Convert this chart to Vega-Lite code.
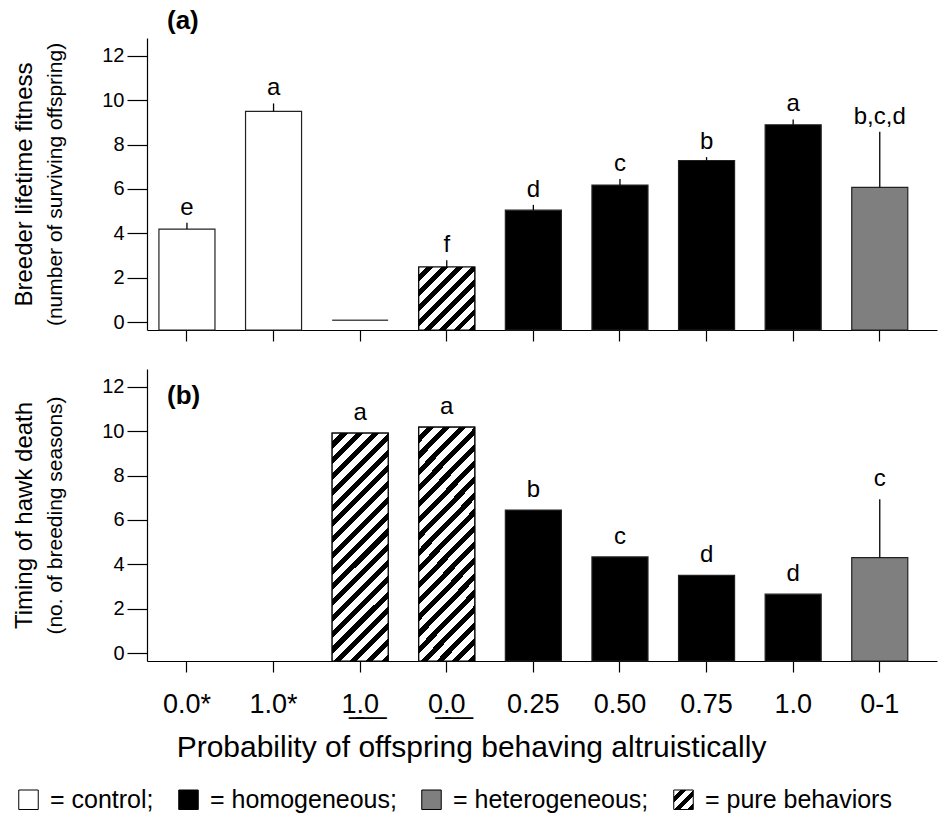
{
  "$schema": "https://vega.github.io/schema/vega-lite/v6.json",
  "padding": {"left": 12, "top": 8, "right": 2, "bottom": 2},
  "config": {
    "font": "Liberation Sans",
    "view": {"stroke": null},
    "axis": {"domainColor": "black", "tickColor": "black", "labelColor": "black", "titleColor": "black", "grid": false, "titleFontWeight": "normal", "labelFont": "Liberation Sans", "titleFont": "Liberation Sans", "domainWidth": 1.2, "tickWidth": 1.2},
    "title": {"font": "Liberation Sans", "color": "black"}
  },
  "data": {
    "values": [
      {"panel": "a", "treatment": "0.0*", "group": "control", "kind": "bar", "value": 4.19, "upper": 4.47, "sig": "e"},
      {"panel": "a", "treatment": "1.0*", "group": "control", "kind": "bar", "value": 9.49, "upper": 9.85, "sig": "a"},
      {"panel": "a", "treatment": "1.0p", "group": "pure behaviors", "kind": "line", "value": 0.08, "upper": 0.08, "sig": ""},
      {"panel": "a", "treatment": "0.0p", "group": "pure behaviors", "kind": "bar", "value": 2.48, "upper": 2.78, "sig": "f"},
      {"panel": "a", "treatment": "0.25", "group": "homogeneous", "kind": "bar", "value": 5.04, "upper": 5.28, "sig": "d"},
      {"panel": "a", "treatment": "0.50", "group": "homogeneous", "kind": "bar", "value": 6.17, "upper": 6.44, "sig": "c"},
      {"panel": "a", "treatment": "0.75", "group": "homogeneous", "kind": "bar", "value": 7.28, "upper": 7.43, "sig": "b"},
      {"panel": "a", "treatment": "1.0", "group": "homogeneous", "kind": "bar", "value": 8.89, "upper": 9.13, "sig": "a"},
      {"panel": "a", "treatment": "0-1", "group": "heterogeneous", "kind": "bar", "value": 6.07, "upper": 8.58, "sig": "b,c,d"},
      {"panel": "b", "treatment": "1.0p", "group": "pure behaviors", "kind": "bar", "value": 9.91, "upper": 9.91, "sig": "a"},
      {"panel": "b", "treatment": "0.0p", "group": "pure behaviors", "kind": "bar", "value": 10.18, "upper": 10.18, "sig": "a"},
      {"panel": "b", "treatment": "0.25", "group": "homogeneous", "kind": "bar", "value": 6.44, "upper": 6.44, "sig": "b"},
      {"panel": "b", "treatment": "0.50", "group": "homogeneous", "kind": "bar", "value": 4.33, "upper": 4.33, "sig": "c"},
      {"panel": "b", "treatment": "0.75", "group": "homogeneous", "kind": "bar", "value": 3.50, "upper": 3.50, "sig": "d"},
      {"panel": "b", "treatment": "1.0", "group": "homogeneous", "kind": "bar", "value": 2.65, "upper": 2.65, "sig": "d"},
      {"panel": "b", "treatment": "0-1", "group": "heterogeneous", "kind": "bar", "value": 4.30, "upper": 6.93, "sig": "c"}
    ]
  },
  "spacing": 27,
  "vconcat": [
    {
      "width": 790,
      "height": 292,
      "title": {"text": "(a)", "anchor": "start", "frame": "group", "fontSize": 26, "fontWeight": "bold", "dx": 20, "offset": 4},
      "transform": [{"filter": "datum.panel === 'a'"}],
      "encoding": {
        "x": {
          "field": "treatment", "type": "nominal",
          "scale": {"domain": ["0.0*", "1.0*", "1.0p", "0.0p", "0.25", "0.50", "0.75", "1.0", "0-1"], "paddingInner": 0.353, "paddingOuter": 0.2376, "align": 0.29},
          "axis": {"title": null, "labels": false, "ticks": true, "tickSize": 11}
        }
      },
      "layer": [
        {
          "transform": [{"filter": "datum.kind === 'bar'"}],
          "mark": {"type": "bar", "stroke": "#222", "strokeWidth": 1.2},
          "encoding": {
            "y": {"field": "value", "type": "quantitative", "scale": {"domain": [-0.36, 12.8], "nice": false, "zero": false},
              "axis": {"title": "(number of surviving offspring)", "titleFontSize": 21, "titlePadding": 36, "values": [0, 2, 4, 6, 8, 10, 12], "tickSize": 20, "labelFontSize": 20, "labelPadding": 3}},
            "y2": {"datum": -0.36},
            "fill": {
              "field": "group", "type": "nominal",
              "scale": {"domain": ["control", "homogeneous", "heterogeneous", "pure behaviors"],
                "range": ["white", "black", "#7f7f7f", {"expr": "{'gradient': 'linear', 'x1': 0, 'y1': 0, 'x2': 1, 'y2': 1, 'stops': [{'offset': 0, 'color': 'white'}, {'offset': 0.1833, 'color': 'white'}, {'offset': 0.1833, 'color': 'black'}, {'offset': 0.3333, 'color': 'black'}, {'offset': 0.3333, 'color': 'white'}, {'offset': 0.5167, 'color': 'white'}, {'offset': 0.5167, 'color': 'black'}, {'offset': 0.6667, 'color': 'black'}, {'offset': 0.6667, 'color': 'white'}, {'offset': 0.85, 'color': 'white'}, {'offset': 0.85, 'color': 'black'}, {'offset': 1, 'color': 'black'}]}"}]},
              "legend": {"title": null, "orient": "none", "legendX": -131, "legendY": 749, "direction": "horizontal", "symbolType": "square", "symbolSize": 380, "symbolStrokeColor": "black", "symbolStrokeWidth": 1, "labelFontSize": 25, "labelFont": "Liberation Sans", "labelColor": "black", "labelLimit": 400, "columnPadding": 22, "labelOffset": 9,
                "labelExpr": "datum.label === 'pure behaviors' ? ' = pure behaviors' : '= ' + datum.label + ';'"}
            }
          }
        },
        {
          "transform": [{"filter": "datum.kind === 'bar' && datum.group === 'pure behaviors'"}],
          "mark": {"type": "bar", "stroke": "black", "strokeWidth": 1.2,
            "fill": {"gradient": "linear", "x1": 0, "y1": 0, "x2": 0.938, "y2": 1.0553, "stops": [
              {"offset": 0, "color": "white"}, {"offset": 0.0688, "color": "white"}, {"offset": 0.0688, "color": "black"}, {"offset": 0.125, "color": "black"},
              {"offset": 0.125, "color": "white"}, {"offset": 0.1938, "color": "white"}, {"offset": 0.1938, "color": "black"}, {"offset": 0.25, "color": "black"},
              {"offset": 0.25, "color": "white"}, {"offset": 0.3188, "color": "white"}, {"offset": 0.3188, "color": "black"}, {"offset": 0.375, "color": "black"},
              {"offset": 0.375, "color": "white"}, {"offset": 0.4438, "color": "white"}, {"offset": 0.4438, "color": "black"}, {"offset": 0.5, "color": "black"},
              {"offset": 0.5, "color": "white"}, {"offset": 0.5688, "color": "white"}, {"offset": 0.5688, "color": "black"}, {"offset": 0.625, "color": "black"},
              {"offset": 0.625, "color": "white"}, {"offset": 0.6938, "color": "white"}, {"offset": 0.6938, "color": "black"}, {"offset": 0.75, "color": "black"},
              {"offset": 0.75, "color": "white"}, {"offset": 0.8188, "color": "white"}, {"offset": 0.8188, "color": "black"}, {"offset": 0.875, "color": "black"},
              {"offset": 0.875, "color": "white"}, {"offset": 0.9438, "color": "white"}, {"offset": 0.9438, "color": "black"}, {"offset": 1, "color": "black"}
            ]}},
          "encoding": {
            "y": {"field": "value", "type": "quantitative",
              "axis": {"title": "Breeder lifetime fitness", "titleFontSize": 24, "orient": "left", "labels": false, "ticks": false, "domain": false, "offset": 111, "titlePadding": 0, "minExtent": 0, "maxExtent": 0}},
            "y2": {"datum": -0.36}
          }
        },
        {
          "transform": [{"filter": "datum.kind === 'line'"}],
          "mark": {"type": "tick", "orient": "horizontal", "size": 56, "thickness": 1.5, "color": "black"},
          "encoding": {"y": {"field": "value", "type": "quantitative", "axis": null}}
        },
        {
          "transform": [{"filter": "datum.upper > datum.value"}],
          "mark": {"type": "rule", "color": "black", "strokeWidth": 1.3},
          "encoding": {"y": {"field": "value", "type": "quantitative", "axis": null}, "y2": {"field": "upper"}}
        },
        {
          "mark": {"type": "text", "fontSize": 24, "baseline": "alphabetic", "dy": -8, "color": "black"},
          "encoding": {"y": {"field": "upper", "type": "quantitative", "axis": null}, "text": {"field": "sig"}}
        }
      ],
      "resolve": {"axis": {"y": "independent"}}
    },
    {
      "width": 790,
      "height": 292,
      "title": {"text": "(b)", "anchor": "start", "frame": "group", "fontSize": 26, "fontWeight": "bold", "dx": 20, "offset": -40},
      "transform": [{"filter": "datum.panel === 'b'"}],
      "encoding": {
        "x": {
          "field": "treatment", "type": "nominal",
          "scale": {"domain": ["0.0*", "1.0*", "1.0p", "0.0p", "0.25", "0.50", "0.75", "1.0", "0-1"], "paddingInner": 0.353, "paddingOuter": 0.2376, "align": 0.29},
          "axis": {"title": "Probability of offspring behaving altruistically", "titleFontSize": 30, "titlePadding": 15, "titleX": 324, "labelFontSize": 27, "labelPadding": 19, "labelAngle": 0, "tickSize": 11, "labelFont": "Liberation Sans, DejaVu Sans",
            "labelExpr": "datum.value === '1.0p' ? '1\u0332.\u03320\u0332' : datum.value === '0.0p' ? '0\u0332.\u03320\u0332' : datum.value"}
        }
      },
      "layer": [
        {
          "transform": [{"filter": "datum.kind === 'bar'"}],
          "mark": {"type": "bar", "stroke": "#222", "strokeWidth": 1.2},
          "encoding": {
            "y": {"field": "value", "type": "quantitative", "scale": {"domain": [-0.36, 12.8], "nice": false, "zero": false},
              "axis": {"title": "(no. of breeding seasons)", "titleFontSize": 21, "titlePadding": 36, "values": [0, 2, 4, 6, 8, 10, 12], "tickSize": 20, "labelFontSize": 20, "labelPadding": 3}},
            "y2": {"datum": -0.36},
            "fill": {
              "field": "group", "type": "nominal",
              "scale": {"domain": ["control", "homogeneous", "heterogeneous", "pure behaviors"],
                "range": ["white", "black", "#7f7f7f", {"expr": "{'gradient': 'linear', 'x1': 0, 'y1': 0, 'x2': 1, 'y2': 1, 'stops': [{'offset': 0, 'color': 'white'}, {'offset': 0.1833, 'color': 'white'}, {'offset': 0.1833, 'color': 'black'}, {'offset': 0.3333, 'color': 'black'}, {'offset': 0.3333, 'color': 'white'}, {'offset': 0.5167, 'color': 'white'}, {'offset': 0.5167, 'color': 'black'}, {'offset': 0.6667, 'color': 'black'}, {'offset': 0.6667, 'color': 'white'}, {'offset': 0.85, 'color': 'white'}, {'offset': 0.85, 'color': 'black'}, {'offset': 1, 'color': 'black'}]}"}]},
              "legend": {"title": null, "orient": "none", "legendX": -131, "legendY": 749, "direction": "horizontal", "symbolType": "square", "symbolSize": 380, "symbolStrokeColor": "black", "symbolStrokeWidth": 1, "labelFontSize": 25, "labelFont": "Liberation Sans", "labelColor": "black", "labelLimit": 400, "columnPadding": 22, "labelOffset": 9,
                "labelExpr": "datum.label === 'pure behaviors' ? ' = pure behaviors' : '= ' + datum.label + ';'"}
            }
          }
        },
        {
          "transform": [{"filter": "datum.kind === 'bar' && datum.group === 'pure behaviors'"}],
          "mark": {"type": "bar", "stroke": "black", "strokeWidth": 1.2,
            "fill": {"gradient": "linear", "x1": 0, "y1": 0, "x2": 0.2885, "y2": 1.1748, "stops": [
              {"offset": 0, "color": "white"}, {"offset": 0.0306, "color": "white"}, {"offset": 0.0306, "color": "black"}, {"offset": 0.0556, "color": "black"},
              {"offset": 0.0556, "color": "white"}, {"offset": 0.0861, "color": "white"}, {"offset": 0.0861, "color": "black"}, {"offset": 0.1111, "color": "black"},
              {"offset": 0.1111, "color": "white"}, {"offset": 0.1417, "color": "white"}, {"offset": 0.1417, "color": "black"}, {"offset": 0.1667, "color": "black"},
              {"offset": 0.1667, "color": "white"}, {"offset": 0.1972, "color": "white"}, {"offset": 0.1972, "color": "black"}, {"offset": 0.2222, "color": "black"},
              {"offset": 0.2222, "color": "white"}, {"offset": 0.2528, "color": "white"}, {"offset": 0.2528, "color": "black"}, {"offset": 0.2778, "color": "black"},
              {"offset": 0.2778, "color": "white"}, {"offset": 0.3083, "color": "white"}, {"offset": 0.3083, "color": "black"}, {"offset": 0.3333, "color": "black"},
              {"offset": 0.3333, "color": "white"}, {"offset": 0.3639, "color": "white"}, {"offset": 0.3639, "color": "black"}, {"offset": 0.3889, "color": "black"},
              {"offset": 0.3889, "color": "white"}, {"offset": 0.4194, "color": "white"}, {"offset": 0.4194, "color": "black"}, {"offset": 0.4444, "color": "black"},
              {"offset": 0.4444, "color": "white"}, {"offset": 0.475, "color": "white"}, {"offset": 0.475, "color": "black"}, {"offset": 0.5, "color": "black"},
              {"offset": 0.5, "color": "white"}, {"offset": 0.5306, "color": "white"}, {"offset": 0.5306, "color": "black"}, {"offset": 0.5556, "color": "black"},
              {"offset": 0.5556, "color": "white"}, {"offset": 0.5861, "color": "white"}, {"offset": 0.5861, "color": "black"}, {"offset": 0.6111, "color": "black"},
              {"offset": 0.6111, "color": "white"}, {"offset": 0.6417, "color": "white"}, {"offset": 0.6417, "color": "black"}, {"offset": 0.6667, "color": "black"},
              {"offset": 0.6667, "color": "white"}, {"offset": 0.6972, "color": "white"}, {"offset": 0.6972, "color": "black"}, {"offset": 0.7222, "color": "black"},
              {"offset": 0.7222, "color": "white"}, {"offset": 0.7528, "color": "white"}, {"offset": 0.7528, "color": "black"}, {"offset": 0.7778, "color": "black"},
              {"offset": 0.7778, "color": "white"}, {"offset": 0.8083, "color": "white"}, {"offset": 0.8083, "color": "black"}, {"offset": 0.8333, "color": "black"},
              {"offset": 0.8333, "color": "white"}, {"offset": 0.8639, "color": "white"}, {"offset": 0.8639, "color": "black"}, {"offset": 0.8889, "color": "black"},
              {"offset": 0.8889, "color": "white"}, {"offset": 0.9194, "color": "white"}, {"offset": 0.9194, "color": "black"}, {"offset": 0.9444, "color": "black"},
              {"offset": 0.9444, "color": "white"}, {"offset": 0.975, "color": "white"}, {"offset": 0.975, "color": "black"}, {"offset": 1, "color": "black"}
            ]}},
          "encoding": {
            "y": {"field": "value", "type": "quantitative",
              "axis": {"title": "Timing of hawk death", "titleFontSize": 24, "orient": "left", "labels": false, "ticks": false, "domain": false, "offset": 111, "titlePadding": 0, "minExtent": 0, "maxExtent": 0}},
            "y2": {"datum": -0.36}
          }
        },
        {
          "transform": [{"filter": "datum.upper > datum.value"}],
          "mark": {"type": "rule", "color": "black", "strokeWidth": 1.3},
          "encoding": {"y": {"field": "value", "type": "quantitative", "axis": null}, "y2": {"field": "upper"}}
        },
        {
          "mark": {"type": "text", "fontSize": 24, "baseline": "alphabetic", "dy": -13, "color": "black"},
          "encoding": {"y": {"field": "upper", "type": "quantitative", "axis": null}, "text": {"field": "sig"}}
        }
      ],
      "resolve": {"axis": {"y": "independent"}}
    }
  ]
}
